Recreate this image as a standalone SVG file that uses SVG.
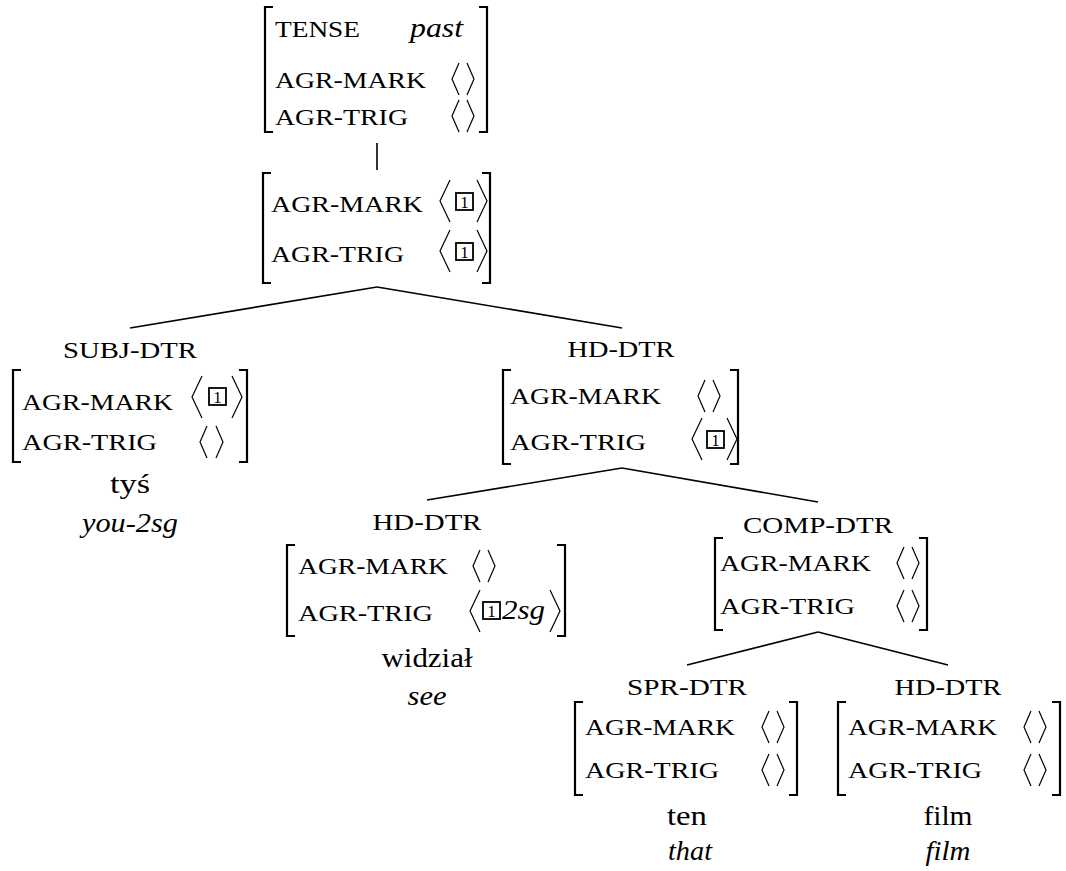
<svg xmlns="http://www.w3.org/2000/svg" width="1066" height="871" viewBox="0 0 1066 871">
<style>
text { font-family: "Liberation Serif", "DejaVu Serif", serif; fill: #000; }
.sc { font-size: 24px; }
.rm { font-size: 28px; }
.it { font-size: 28px; font-style: italic; }
.num { font-size: 17px; text-anchor: middle; }
.mid { text-anchor: middle; }
.br { fill: none; stroke: #000; stroke-width: 2.2; }
.ang { fill: none; stroke: #000; stroke-width: 1.2; }
.box { fill: none; stroke: #000; stroke-width: 1.8; }
.edge { stroke: #000; stroke-width: 1.6; fill: none; }
</style>
<rect width="1066" height="871" fill="#fff"/>

<g id="connectors">
  <line class="edge" x1="377" y1="143" x2="377" y2="170"/>
  <line class="edge" x1="377" y1="287" x2="130" y2="328"/>
  <line class="edge" x1="377" y1="287" x2="622" y2="328"/>
  <line class="edge" x1="622" y1="468" x2="427" y2="500"/>
  <line class="edge" x1="622" y1="468" x2="818" y2="502"/>
  <line class="edge" x1="818" y1="632" x2="687" y2="665"/>
  <line class="edge" x1="818" y1="632" x2="948" y2="665"/>
</g>

<g id="n0">
  <path class="br" d="M273,7 H265 V132 H273"/>
  <path class="br" d="M479,7 H487 V132 H479"/>
  <text class="sc" x="275" y="37" textLength="85" lengthAdjust="spacingAndGlyphs">TENSE</text>
  <text class="it" x="410" y="37" textLength="53" lengthAdjust="spacingAndGlyphs">past</text>
  <text class="sc" x="275" y="88" textLength="151" lengthAdjust="spacingAndGlyphs">AGR-MARK</text>
  <polyline class="ang" points="459,63 452,79 459,95"/>
  <polyline class="ang" points="467,63 474,79 467,95"/>
  <text class="sc" x="275" y="125" textLength="133" lengthAdjust="spacingAndGlyphs">AGR-TRIG</text>
  <polyline class="ang" points="459,100 452,116 459,132"/>
  <polyline class="ang" points="467,100 474,116 467,132"/>
</g>

<g id="n1">
  <path class="br" d="M271,173 H263 V283 H271"/>
  <path class="br" d="M482,173 H490 V283 H482"/>
  <text class="sc" x="271" y="212" textLength="152" lengthAdjust="spacingAndGlyphs">AGR-MARK</text>
  <polyline class="ang" points="450,180 440,201 450,222"/>
  <rect class="box" x="456" y="193" width="17" height="17"/>
  <text class="num" x="464.5" y="208">1</text>
  <polyline class="ang" points="477,180 487,201 477,222"/>
  <text class="sc" x="271" y="262" textLength="133" lengthAdjust="spacingAndGlyphs">AGR-TRIG</text>
  <polyline class="ang" points="450,230 440,251 450,272"/>
  <rect class="box" x="456" y="243" width="17" height="17"/>
  <text class="num" x="464.5" y="258">1</text>
  <polyline class="ang" points="477,230 487,251 477,272"/>
</g>

<g id="n2">
  <text class="sc mid" x="130" y="358" textLength="134" lengthAdjust="spacingAndGlyphs">SUBJ-DTR</text>
  <path class="br" d="M21,370 H13 V462 H21"/>
  <path class="br" d="M239,370 H247 V462 H239"/>
  <text class="sc" x="22" y="410" textLength="151" lengthAdjust="spacingAndGlyphs">AGR-MARK</text>
  <polyline class="ang" points="202,376 192,397 202,418"/>
  <rect class="box" x="209" y="388" width="17" height="17"/>
  <text class="num" x="217.5" y="403">1</text>
  <polyline class="ang" points="232,376 242,397 232,418"/>
  <text class="sc" x="22" y="450" textLength="135" lengthAdjust="spacingAndGlyphs">AGR-TRIG</text>
  <polyline class="ang" points="207,426 200,442 207,458"/>
  <polyline class="ang" points="216,426 223,442 216,458"/>
  <text class="rm mid" x="130" y="493" textLength="40" lengthAdjust="spacingAndGlyphs">tyś</text>
  <text class="it mid" x="130" y="532" textLength="96" lengthAdjust="spacingAndGlyphs">you-2sg</text>
</g>

<g id="n3">
  <text class="sc mid" x="621" y="357" textLength="107" lengthAdjust="spacingAndGlyphs">HD-DTR</text>
  <path class="br" d="M511,370 H503 V464 H511"/>
  <path class="br" d="M730,370 H738 V464 H730"/>
  <text class="sc" x="510" y="404" textLength="151" lengthAdjust="spacingAndGlyphs">AGR-MARK</text>
  <polyline class="ang" points="705,380 698,396 705,412"/>
  <polyline class="ang" points="713,380 720,396 713,412"/>
  <text class="sc" x="510" y="450" textLength="136" lengthAdjust="spacingAndGlyphs">AGR-TRIG</text>
  <polyline class="ang" points="702,418 692,439 702,460"/>
  <rect class="box" x="707" y="431" width="17" height="17"/>
  <text class="num" x="715.5" y="446">1</text>
  <polyline class="ang" points="727,418 737,439 727,460"/>
</g>

<g id="n4">
  <text class="sc mid" x="427" y="530" textLength="109" lengthAdjust="spacingAndGlyphs">HD-DTR</text>
  <path class="br" d="M295,545 H287 V636 H295"/>
  <path class="br" d="M557,545 H565 V636 H557"/>
  <text class="sc" x="298" y="574" textLength="150" lengthAdjust="spacingAndGlyphs">AGR-MARK</text>
  <polyline class="ang" points="480,550 473,566 480,582"/>
  <polyline class="ang" points="488,550 495,566 488,582"/>
  <text class="sc" x="298" y="621" textLength="135" lengthAdjust="spacingAndGlyphs">AGR-TRIG</text>
  <polyline class="ang" points="480,590 470,611 480,632"/>
  <rect class="box" x="483" y="602" width="17" height="17"/>
  <text class="num" x="491.5" y="617">1</text>
  <text class="it" x="502" y="619" textLength="43" lengthAdjust="spacingAndGlyphs">2sg</text>
  <polyline class="ang" points="550,590 560,611 550,632"/>
  <text class="rm mid" x="427" y="667" textLength="91" lengthAdjust="spacingAndGlyphs">widział</text>
  <text class="it mid" x="427" y="705" textLength="39" lengthAdjust="spacingAndGlyphs">see</text>
</g>

<g id="n5">
  <text class="sc mid" x="818" y="533" textLength="150" lengthAdjust="spacingAndGlyphs">COMP-DTR</text>
  <path class="br" d="M723,538 H715 V630 H723"/>
  <path class="br" d="M919,538 H927 V630 H919"/>
  <text class="sc" x="720" y="571" textLength="151" lengthAdjust="spacingAndGlyphs">AGR-MARK</text>
  <polyline class="ang" points="904,547 897,563 904,579"/>
  <polyline class="ang" points="912,547 919,563 912,579"/>
  <text class="sc" x="720" y="614" textLength="135" lengthAdjust="spacingAndGlyphs">AGR-TRIG</text>
  <polyline class="ang" points="904,590 897,606 904,622"/>
  <polyline class="ang" points="912,590 919,606 912,622"/>
</g>

<g id="n6">
  <text class="sc mid" x="687" y="695" textLength="120" lengthAdjust="spacingAndGlyphs">SPR-DTR</text>
  <path class="br" d="M583,702 H575 V795 H583"/>
  <path class="br" d="M789,702 H797 V795 H789"/>
  <text class="sc" x="585" y="735" textLength="150" lengthAdjust="spacingAndGlyphs">AGR-MARK</text>
  <polyline class="ang" points="769,711 762,727 769,743"/>
  <polyline class="ang" points="777,711 784,727 777,743"/>
  <text class="sc" x="585" y="778" textLength="134" lengthAdjust="spacingAndGlyphs">AGR-TRIG</text>
  <polyline class="ang" points="769,754 762,770 769,786"/>
  <polyline class="ang" points="777,754 784,770 777,786"/>
  <text class="rm mid" x="687" y="825" textLength="40" lengthAdjust="spacingAndGlyphs">ten</text>
  <text class="it mid" x="690" y="860" textLength="44" lengthAdjust="spacingAndGlyphs">that</text>
</g>

<g id="n7">
  <text class="sc mid" x="948" y="695" textLength="107" lengthAdjust="spacingAndGlyphs">HD-DTR</text>
  <path class="br" d="M846,702 H838 V795 H846"/>
  <path class="br" d="M1052,702 H1060 V795 H1052"/>
  <text class="sc" x="848" y="735" textLength="149" lengthAdjust="spacingAndGlyphs">AGR-MARK</text>
  <polyline class="ang" points="1031,711 1024,727 1031,743"/>
  <polyline class="ang" points="1039,711 1046,727 1039,743"/>
  <text class="sc" x="848" y="778" textLength="134" lengthAdjust="spacingAndGlyphs">AGR-TRIG</text>
  <polyline class="ang" points="1031,754 1024,770 1031,786"/>
  <polyline class="ang" points="1039,754 1046,770 1039,786"/>
  <text class="rm mid" x="948" y="825" textLength="49" lengthAdjust="spacingAndGlyphs">film</text>
  <text class="it mid" x="948" y="860" textLength="45" lengthAdjust="spacingAndGlyphs">film</text>
</g>
</svg>
